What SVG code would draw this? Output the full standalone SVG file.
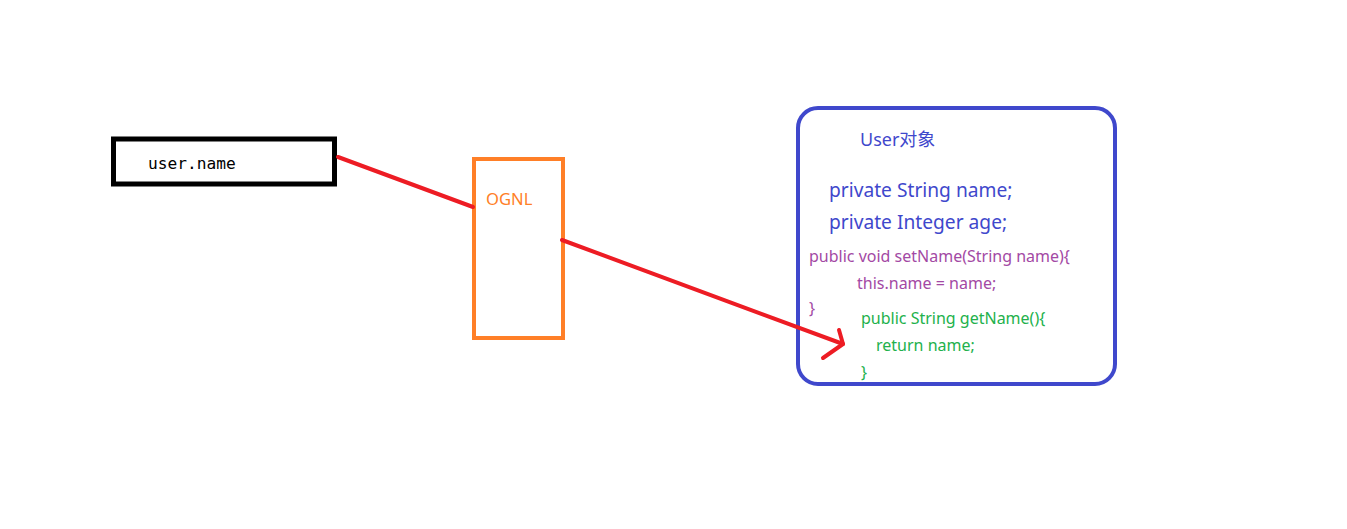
<svg xmlns="http://www.w3.org/2000/svg" width="1347" height="529" viewBox="0 0 1347 529">
<style>
.t{font-family:"Noto Sans","Noto Sans CJK SC",sans-serif}
.m{font-family:"DejaVu Sans Mono","Liberation Mono",monospace}
.red{stroke:#ed1c24;stroke-width:4;fill:none;stroke-linecap:round;stroke-linejoin:round}
</style>
<rect width="1347" height="529" fill="#fff"/>
<g id="user-name">
<rect x="113.5" y="139" width="221" height="45" fill="none" stroke="#000" stroke-width="5"/>
<text class="m" x="148" y="169" font-size="16.2" fill="#000">user.name</text>
</g>
<g id="ognl">
<rect x="474" y="159" width="89" height="179" fill="none" stroke="#ff7f27" stroke-width="4"/>
<text class="t" x="486" y="205" font-size="16.6" fill="#ff7f27">OGNL</text>
</g>
<g id="user-object">
<rect x="798" y="108" width="317" height="276" rx="20" fill="none" stroke="#3f48cc" stroke-width="4"/>
<text class="t" x="860" y="146" font-size="18" fill="#3f48cc">User对象</text>
<text class="t" x="829" y="197" font-size="19.2" fill="#3f48cc">private String name;</text>
<text class="t" x="829" y="229" font-size="19.2" fill="#3f48cc">private Integer age;</text>
<text class="t" x="809" y="262" font-size="16" fill="#a349a4">public void setName(String name){</text>
<text class="t" x="857" y="289" font-size="16" fill="#a349a4">this.name = name;</text>
<text class="t" x="809" y="314" font-size="16" fill="#a349a4">}</text>
<text class="t" x="861" y="324" font-size="16" fill="#22b14c">public String getName(){</text>
<text class="t" x="876" y="351" font-size="16" fill="#22b14c">return name;</text>
<text class="t" x="861" y="378" font-size="16" fill="#22b14c">}</text>
</g>
<g id="connectors">
<path class="red" d="M338 157 L473 207"/>
<path class="red" d="M562 240 L843 344"/>
<path class="red" d="M839 330 L843 344 L823 358"/>
</g>
</svg>
